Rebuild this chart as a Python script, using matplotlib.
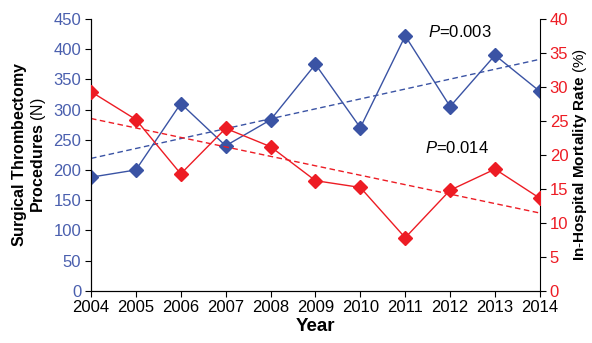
import numpy as np
import matplotlib.pyplot as plt

plt.rcParams['font.family'] = ['Liberation Sans', 'DejaVu Sans']
plt.rcParams['mathtext.fontset'] = 'custom'
plt.rcParams['mathtext.rm'] = 'Liberation Sans'
plt.rcParams['mathtext.it'] = 'Liberation Sans:italic'
plt.rcParams['mathtext.bf'] = 'Liberation Sans:bold'

# Данные
years = [2004, 2005, 2006, 2007, 2008, 2009, 2010, 2011, 2012, 2013, 2014]
procedures = [188, 200, 310, 240, 283, 375, 270, 422, 305, 390, 330]
mortality = [29.3, 25.2, 17.2, 23.9, 21.2, 16.2, 15.2, 7.8, 14.8, 17.9, 13.6]

blue = '#3a53a4'
red = '#ed1c24'
blue_txt = '#4a5fae'

fig = plt.figure(figsize=(5.92, 3.43), dpi=100)
ax = fig.add_axes([0.1537, 0.1525, 0.912 - 0.1537, 0.9446 - 0.1525])
ax2 = ax.twinx()

# Линии и тренды
ax.plot(years, procedures, color=blue, lw=1, marker='D', ms=7, zorder=3)
k, b = np.polyfit(years, procedures, 1)
ax.plot(years, np.polyval([k, b], years), color=blue, lw=1, ls=(0, (4, 2.5)))

ax2.plot(years, mortality, color=red, lw=1, marker='D', ms=7, zorder=3)
k2, b2 = np.polyfit(years, mortality, 1)
ax2.plot(years, np.polyval([k2, b2], years), color=red, lw=1, ls=(0, (4, 2.5)))

ax.set_xlim(2004, 2014)
ax.set_ylim(0, 450)
ax2.set_ylim(0, 40)
ax.set_xticks(years)
ax.set_yticks(range(0, 451, 50))
ax2.set_yticks(range(0, 41, 5))

for a in (ax, ax2):
    a.spines['top'].set_visible(False)
ax.spines['right'].set_visible(False)

ax.tick_params(axis='x', labelsize=12, direction='out', length=4, pad=3)
ax.tick_params(axis='y', labelsize=12, labelcolor=blue_txt, direction='out', length=4, pad=3)
ax2.tick_params(axis='y', labelsize=12, labelcolor=red, direction='out', length=4, pad=3)

ax.set_xlabel('Year', fontsize=13.5, fontweight='bold', labelpad=2)
ax.set_ylabel(r'$\bf{Surgical\ Thrombectomy}$' + '\n' + r'$\bf{Procedures}$ (N)',
              fontsize=11.5, linespacing=1.0, labelpad=4)
ax2.set_ylabel(r'$\bf{In\text{-}Hospital\ Mortality\ Rate}$ (%)', fontsize=11, labelpad=2)

ax.text(2011.5, 428, r'$\it{P}$=0.003', fontsize=12, va='center')
ax.text(2011.45, 236, r'$\it{P}$=0.014', fontsize=12, va='center')

fig.savefig('out.png', dpi=100)
